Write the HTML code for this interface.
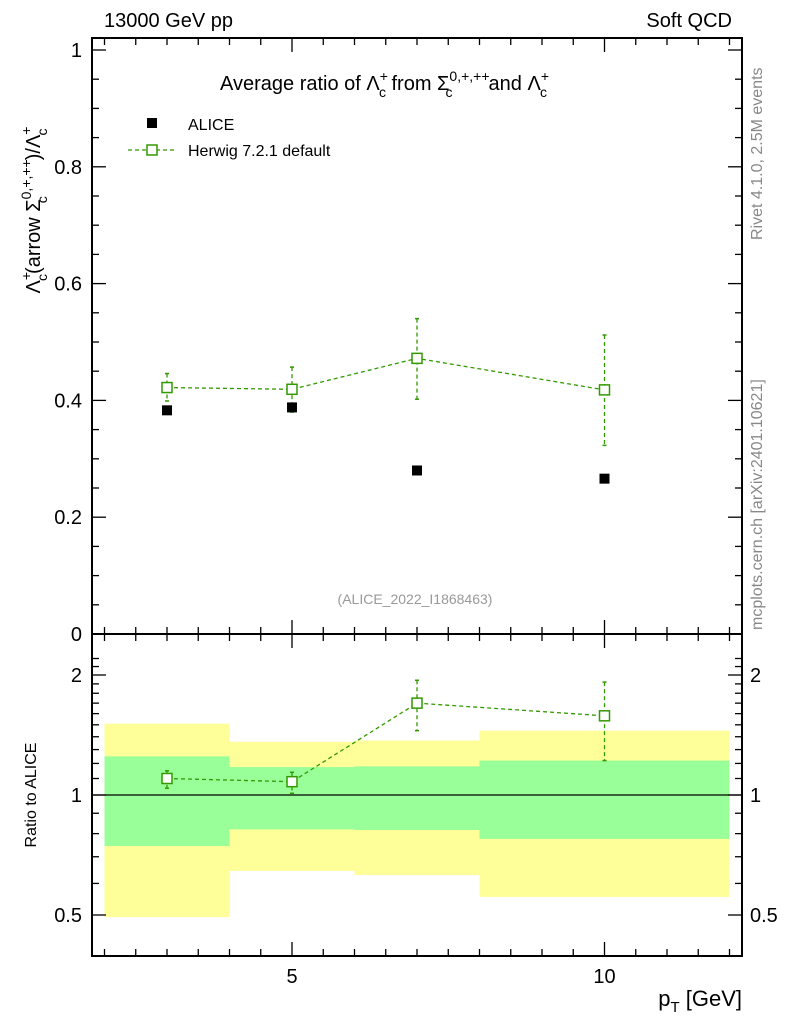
<!DOCTYPE html>
<html><head><meta charset="utf-8"><style>
body{margin:0;background:#fff}
svg{display:block;font-family:"Liberation Sans",sans-serif}
</style></head><body>
<svg id="c" width="786" height="1024" xmlns="http://www.w3.org/2000/svg"></svg>
<script>
const binEdges=[2,4,6,8,12];
const xPts=[3,5,7,10];
const aliceVals=[0.383,0.388,0.280,0.266];
const herwigVals=[0.422,0.419,0.472,0.418];
const herwigHi=[0.446,0.457,0.540,0.512];
const herwigLo=[0.399,0.380,0.402,0.323];
const ratioVals=[1.10,1.08,1.70,1.58];
const ratioHi=[1.15,1.14,1.94,1.92];
const ratioLo=[1.04,1.01,1.45,1.22];
const yellowHi=[1.51,1.36,1.37,1.45];
const yellowLo=[0.494,0.645,0.63,0.555];
const greenHi=[1.25,1.175,1.18,1.22];
const greenLo=[0.745,0.82,0.817,0.776];
const mainTicks=["0","0.2","0.4","0.6","0.8","1"];
const ratioTicks=[0.5,1,2];

const svg=document.getElementById('c');const NS='http://www.w3.org/2000/svg';
function el(t,a,p){const e=document.createElementNS(NS,t);for(const k in a)e.setAttribute(k,a[k]);(p||svg).appendChild(e);return e;}
const L=92,R=742,T1=50,B1=634,B2=956;
const X=v=>L+(v-1.8)/(12.2-1.8)*(R-L);
const Y=v=>B1-v*584;
const YR=v=>795-Math.log2(v)*120;

// bands
for(let i=0;i<4;i++){
 const b=el('rect',{x:X(binEdges[i]),y:YR(yellowHi[i]),width:X(binEdges[i+1])-X(binEdges[i]),height:YR(yellowLo[i])-YR(yellowHi[i]),fill:'#ffff99'});
 
 
 const g=el('rect',{x:X(binEdges[i]),y:YR(greenHi[i]),width:X(binEdges[i+1])-X(binEdges[i]),height:YR(greenLo[i])-YR(greenHi[i]),fill:'#99ff99'});
 
 
}
el('line',{x1:L,x2:R,y1:YR(1),y2:YR(1),stroke:'#000','stroke-width':1.2});

// frames
el('rect',{x:L,y:T1-12,width:R-L,height:B1-T1+12,fill:'none',stroke:'#000','stroke-width':2});
el('rect',{x:L,y:B1,width:R-L,height:B2-B1,fill:'none',stroke:'#000','stroke-width':2});

// x ticks
for(let v=2;v<=12.01;v+=0.5){
 const maj=(v===5||v===10);const len=maj?14:7;const x=X(v);
 [[B1,-1],[T1-12,1],[B1,1],[B2,-1]].forEach(([y,d])=>el('line',{x1:x,x2:x,y1:y,y2:y+d*len,stroke:'#000','stroke-width':1.3}));
}
[5,10].forEach(v=>{const t=el('text',{x:X(v),y:983,'font-size':20,'text-anchor':'middle'});t.textContent=v;
 
 });
// main y ticks
for(let v=0;v<=1.001;v+=0.05){const maj=Math.abs(v*5-Math.round(v*5))<1e-6;const len=maj?14:7;
 el('line',{x1:L,x2:L+len,y1:Y(v),y2:Y(v),stroke:'#000','stroke-width':1.3});
 el('line',{x1:R,x2:R-len,y1:Y(v),y2:Y(v),stroke:'#000','stroke-width':1.3});}
mainTicks.forEach((s,i)=>{const t=el('text',{x:82,y:Y(i*0.2)+7,'font-size':20,'text-anchor':'end'});t.textContent=s;
 
 });
// ratio ticks
const rminor=[0.5,0.6,0.7,0.8,0.9,1,1.1,1.2,1.3,1.4,1.5,1.6,1.7,1.8,1.9,2,2.1,2.2];
rminor.forEach(v=>{const maj=ratioTicks.includes(v);const len=maj?14:7;
 el('line',{x1:L,x2:L+len,y1:YR(v),y2:YR(v),stroke:'#000','stroke-width':1.3});
 el('line',{x1:R,x2:R-len,y1:YR(v),y2:YR(v),stroke:'#000','stroke-width':1.3});});
ratioTicks.forEach(v=>{const s=v===0.5?'0.5':String(v);
 const t=el('text',{x:82,y:YR(v)+7,'font-size':20,'text-anchor':'end'});t.textContent=s;
 
 
 const t2=el('text',{x:750,y:YR(v)+7,'font-size':20});t2.textContent=s;
 
 });

// herwig main
const G='#339900';
el('polyline',{points:xPts.map((x,i)=>X(x)+','+Y(herwigVals[i])).join(' '),fill:'none',stroke:G,'stroke-width':1.3,'stroke-dasharray':'4,3'});
xPts.forEach((x,i)=>{
 el('line',{x1:X(x),x2:X(x),y1:Y(herwigHi[i]),y2:Y(herwigLo[i]),stroke:G,'stroke-width':1.3,'stroke-dasharray':'4,3'});
 [herwigHi[i],herwigLo[i]].forEach(v=>el('line',{x1:X(x)-2,x2:X(x)+2,y1:Y(v),y2:Y(v),stroke:G,'stroke-width':1.5}));
 const m=el('rect',{x:X(x)-5,y:Y(herwigVals[i])-5,width:10,height:10,fill:'#fff',stroke:G,'stroke-width':1.5});
 
 
 const a=el('rect',{x:X(x)-5,y:Y(aliceVals[i])-5,width:10,height:10,fill:'#000'});
 
 
});
// herwig ratio
el('polyline',{points:xPts.map((x,i)=>X(x)+','+YR(ratioVals[i])).join(' '),fill:'none',stroke:G,'stroke-width':1.3,'stroke-dasharray':'4,3'});
xPts.forEach((x,i)=>{
 el('line',{x1:X(x),x2:X(x),y1:YR(ratioHi[i]),y2:YR(ratioLo[i]),stroke:G,'stroke-width':1.3,'stroke-dasharray':'4,3'});
 [ratioHi[i],ratioLo[i]].forEach(v=>el('line',{x1:X(x)-2,x2:X(x)+2,y1:YR(v),y2:YR(v),stroke:G,'stroke-width':1.5}));
 const m=el('rect',{x:X(x)-5,y:YR(ratioVals[i])-5,width:10,height:10,fill:'#fff',stroke:G,'stroke-width':1.5});
 
 
});
</script>
<svg style="position:absolute;left:0;top:0" width="786" height="1024" xmlns="http://www.w3.org/2000/svg">
<text x="104" y="27" font-size="20">13000 GeV pp</text>
<text x="732" y="27" font-size="20" text-anchor="end">Soft QCD</text>
<text x="220" y="90" font-size="20">Average ratio of Λ<tspan font-size="14" dy="-9">+</tspan><tspan font-size="14" dx="-9" dy="16">c</tspan><tspan dy="-7"> from Σ</tspan><tspan font-size="14" dy="-9">0,+,++</tspan><tspan font-size="14" dx="-44" dy="16">c</tspan><tspan dx="36" dy="-7">and Λ</tspan><tspan font-size="14" dy="-9">+</tspan><tspan font-size="14" dx="-9" dy="16">c</tspan></text>
<rect x="147" y="118" width="10" height="10" fill="#000"/>
<text x="188" y="130" font-size="16">ALICE</text>
<line x1="128" x2="176" y1="150" y2="150" stroke="#339900" stroke-width="1.3" stroke-dasharray="4,3"/>
<rect x="147" y="145" width="10" height="10" fill="#fff" stroke="#339900" stroke-width="1.5"/>
<text x="188" y="156" font-size="16">Herwig 7.2.1 default</text>
<text x="415" y="604" font-size="14" fill="#999" text-anchor="middle">(ALICE_2022_I1868463)</text>
<text transform="translate(40,210) rotate(-90)" font-size="20" text-anchor="middle">Λ<tspan font-size="14" dy="-9">+</tspan><tspan font-size="14" dx="-9" dy="16">c</tspan><tspan dy="-7">(arrow Σ</tspan><tspan font-size="14" dy="-9">0,+,++</tspan><tspan font-size="14" dx="-44" dy="16">c</tspan><tspan dx="36" dy="-7">)/Λ</tspan><tspan font-size="14" dy="-9">+</tspan><tspan font-size="14" dx="-9" dy="16">c</tspan></text>
<text transform="translate(36,795) rotate(-90)" font-size="16" text-anchor="middle">Ratio to ALICE</text>
<text x="742" y="1006" font-size="22" text-anchor="end">p<tspan font-size="15" dy="6">T</tspan><tspan dy="-6"> [GeV]</tspan></text>
<text transform="translate(762,240) rotate(-90)" font-size="16" fill="#888">Rivet 4.1.0,  2.5M events</text>
<text transform="translate(762,630) rotate(-90)" font-size="16" fill="#888">mcplots.cern.ch [arXiv:2401.10621]</text>
</svg>
</body></html>
